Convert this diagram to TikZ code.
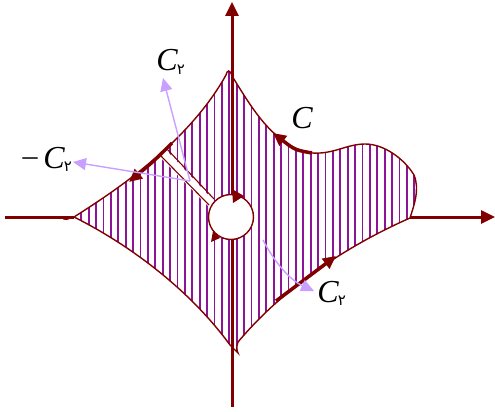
\documentclass[tikz,border=0pt]{standalone}
\usepackage{fontspec}
\setmainfont{Liberation Serif}
\newfontfamily\arabicfont[Script=Arabic]{DejaVu Sans}
\usetikzlibrary{arrows.meta}
\definecolor{maroon}{RGB}{128,0,0}
\definecolor{hatchc}{RGB}{140,20,150}
\definecolor{lav}{RGB}{200,160,255}
\tikzset{
  axis/.style={maroon,line width=3pt,-{Triangle[length=14pt,width=13pt]}},
  axisplain/.style={maroon,line width=3pt},
  bound/.style={maroon,line width=1.4pt},
  thickarr/.style={maroon,line width=3.5pt,-{Triangle[length=13pt,width=12pt]}},
  lavarr/.style={lav,line width=1.4pt,-{Triangle[length=13pt,width=12pt]}},
  lbl/.style={inner sep=0pt,font=\fontsize{32}{34}\selectfont\itshape},
  sub/.style={inner sep=0pt,font=\arabicfont\fontsize{15}{15}\selectfont},
}
\begin{document}
\begin{tikzpicture}[x=1pt,y=-1pt]
\useasboundingbox (0,0) rectangle (495,412);
\def\region{(74,217) .. controls (120,188) and (190,140) .. (226,75)
  .. controls (227,70) and (230,69) .. (232,76)
  .. controls (252,108) and (270,140) .. (305,152)
  .. controls (330,157) and (345,144) .. (365,144)
  .. controls (385,144) and (405,160) .. (414,175)
  .. controls (420,190) and (414,205) .. (410,218)
  .. controls (360,240) and (290,280) .. (238,342)
  .. controls (236,347) and (237,351) .. (238,353)
  -- (230,345)
  .. controls (190,290) and (130,245) .. (74,217) -- cycle}
% hatching
\begin{scope}
\clip \region;
\foreach \x in {66.5,73.9,...,425} {
  \draw[hatchc,line width=1.8pt] (\x,60) -- (\x,360);
}
\end{scope}
% cut strip
\fill[white] (166,150) -- (213,200) -- (208,206) -- (160,157) -- cycle;
\draw[bound] \region;
\coordinate (cA1) at (167,149);
\coordinate (cA2) at (214,199);
\coordinate (cB1) at (161,156);
\coordinate (cB2) at (209,205);
\draw[maroon,line width=1.1pt] (cA1) -- (cA2);
\draw[maroon,line width=1.1pt] (cB1) -- (cB2);
% axes
\coordinate (yb) at (232,407);
\coordinate (yt) at (232,2);
\coordinate (xl) at (5,217);
\coordinate (xlt) at (74,217);
\coordinate (xrt) at (410,217);
\coordinate (xr) at (495,217);
\draw[axis] (yb) -- (yt);
\draw[axisplain] (xl) -- (xlt);
\draw[axis] (xrt) -- (xr);
\draw[maroon,line width=0.8pt] (66,218) ellipse (3.5 and 1.6);
% inner circle
\node[circle,draw=maroon,fill=white,line width=1.4pt,minimum size=45pt,inner sep=0pt] (O) at (231,217) {};
\fill[maroon] (244,196) -- (232,189) -- (233,203) -- cycle;
\fill[maroon] (213,231) -- (211,242) -- (220,238) -- cycle;
% thick arrows on the boundary
\coordinate (a1s) at (172,143);
\coordinate (a1e) at (129,182);
\draw[thickarr] (a1s) .. controls (155,160) .. (a1e);
\coordinate (a2s) at (312,153);
\coordinate (a2e) at (273,133);
\draw[thickarr] (a2s) .. controls (295,150) .. (a2e);
\coordinate (a3s) at (276,301);
\coordinate (a3e) at (336,256);
\draw[thickarr] (a3s) -- (a3e);
% lavender arrows
\coordinate (p0) at (190,181);
\coordinate (t1) at (163,78);
\coordinate (t2) at (73,162);
\coordinate (p3) at (263,240);
\coordinate (t3) at (314,291);
\draw[lavarr] (p0) -- (t1);
\draw[lavarr] (p0) -- (t2);
\draw[lavarr] (p3) .. controls (275,263) and (290,280) .. (t3);
% labels
\node[lbl] (L1) at (167,60) {C};
\node[sub] (S1) at (181,70) {۲};
\node[lbl] (L2) at (54,158) {C};
\node[sub] (S2) at (68,167) {۲};
\node[inner sep=0pt,font=\fontsize{30}{30}\selectfont] (M2) at (30,162) {–};
\node[lbl] (L3) at (328,292) {C};
\node[sub] (S3) at (342,301) {۲};
\node[lbl] (L4) at (302,118) {C};
\end{tikzpicture}
\end{document}
